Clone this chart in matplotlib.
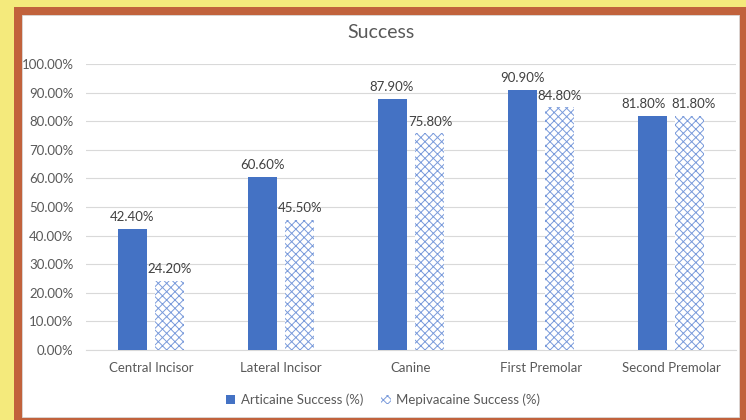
import numpy as np
import matplotlib.pyplot as plt
from matplotlib.patches import Rectangle, Patch

plt.rcParams['font.family'] = ['Lato', 'DejaVu Sans']
plt.rcParams['hatch.linewidth'] = 0.7

categories = ["Central Incisor", "Lateral Incisor", "Canine", "First Premolar", "Second Premolar"]
articaine = [42.4, 60.6, 87.9, 90.9, 81.8]
mepivacaine = [24.2, 45.5, 75.8, 84.8, 81.8]
y_ticks = [0, 10, 20, 30, 40, 50, 60, 70, 80, 90, 100]

W, H = 746, 420
fig = plt.figure(figsize=(W / 100, H / 100), dpi=100, facecolor="#F4EA7C")

# frame: orange border with white chart area inside
fig.patches.append(Rectangle((14 / W, 0), 1 - 14 / W, 1 - 7 / H, transform=fig.transFigure,
                             facecolor="#C1623C", edgecolor="none", zorder=-2))
fig.patches.append(Rectangle((22 / W, 3 / H), (739 - 22) / W, (417 - 15) / H, transform=fig.transFigure,
                             facecolor="white", edgecolor="#D9D9D9", linewidth=0.6, zorder=-1))

ax = fig.add_axes([86 / W, 1 - 350 / H, (736 - 86) / W, (350 - 64) / H])
ax.set_facecolor("none")

x = np.arange(len(categories))
bw = 0.223
off = 0.146
blue = "#4472C4"

b1 = ax.bar(x - off, articaine, bw, color=blue, zorder=3)
b2 = ax.bar(x + off, mepivacaine, bw, facecolor="white", edgecolor="#7A9BDB",
            hatch="xxxx", linewidth=0, zorder=3)

# value labels; pairs at the same height get pushed apart so they don't collide
for i, (ra, rm) in enumerate(zip(b1, b2)):
    a, m = articaine[i], mepivacaine[i]
    dxa, dxm = (-6, 2.5) if abs(a - m) < 3 else (0, 0)
    for r, v, dx in ((ra, a, dxa), (rm, m, dxm)):
        ax.annotate(f"{v:.2f}%", (r.get_x() + r.get_width() / 2, v), xytext=(dx, 4),
                    textcoords="offset points", ha="center", va="bottom",
                    fontsize=9.5, color="#404040")

ax.set_xlim(-0.5, len(categories) - 0.5)
ax.set_ylim(0, 100)
ax.set_yticks(y_ticks)
ax.set_yticklabels([f"{t:.2f}%" for t in y_ticks])
ax.set_xticks(x)
ax.set_xticklabels(categories)
ax.tick_params(length=0, labelsize=9.5, labelcolor="#595959")
ax.tick_params(axis="x", pad=9)
ax.tick_params(axis="y", pad=9)
ax.yaxis.grid(True, color="#D9D9D9", linewidth=0.8, zorder=0)
for s in ("top", "right", "left"):
    ax.spines[s].set_visible(False)
ax.spines["bottom"].set_color("#D9D9D9")

fig.text(381 / W, 1 - 32 / H, "Success", ha="center", va="center", fontsize=14, color="#595959")

handles = [Patch(facecolor=blue, edgecolor="none"),
           Patch(facecolor="white", edgecolor="#7A9BDB", hatch="xxxx", linewidth=0)]
fig.legend(handles, ["Articaine Success (%)", "Mepivacaine Success (%)"],
           loc="center", bbox_to_anchor=(383 / W, 1 - 400 / H), ncol=2, frameon=False,
           fontsize=9.5, labelcolor="#595959", handlelength=0.7, handleheight=0.7,
           handletextpad=0.4, columnspacing=1.4)

fig.savefig("out.png", dpi=100, facecolor=fig.get_facecolor())
